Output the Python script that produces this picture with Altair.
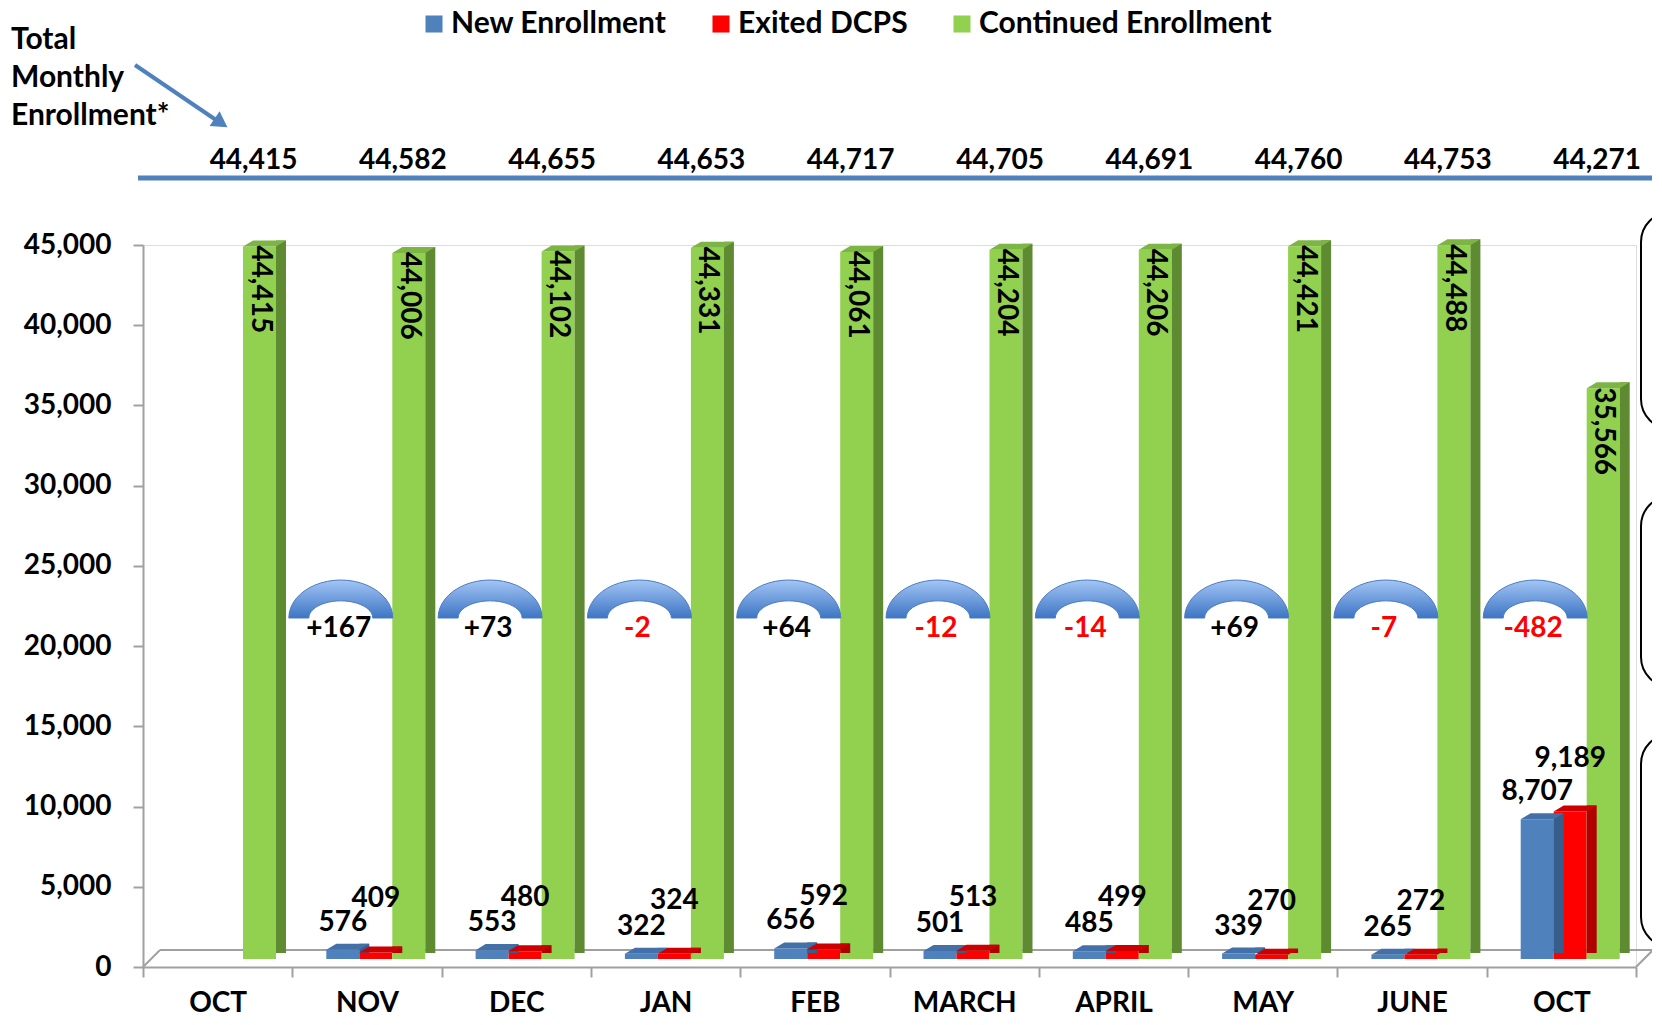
import altair as alt
import pandas as pd
import math

# ---------------- data ----------------
MONTHS = ["OCT", "NOV", "DEC", "JAN", "FEB", "MARCH", "APRIL", "MAY", "JUNE", "OCT"]
NEW = [None, 576, 553, 322, 656, 501, 485, 339, 265, 8707]
EXITED = [None, 409, 480, 324, 592, 513, 499, 270, 272, 9189]
CONTINUED = [44415, 44006, 44102, 44331, 44061, 44204, 44206, 44421, 44488, 35566]
TOTAL = [44415, 44582, 44655, 44653, 44717, 44705, 44691, 44760, 44753, 44271]
CHANGE = [None, 167, 73, -2, 64, -12, -14, 69, -7, -482]
SERIES = ["New Enrollment", "Exited DCPS", "Continued Enrollment"]
Y_TICKS = list(range(0, 45001, 5000))
SIDE_NOTE = "Total\nMonthly\nEnrollment*"

KEYS = [f"{i:02d}|{m}" for i, m in enumerate(MONTHS)]

rows = []
for k, n, e, c in zip(KEYS, NEW, EXITED, CONTINUED):
    for s, v in zip(SERIES, (n, e, c)):
        if v is not None:
            rows.append({"key": k, "series": s, "value": v})
bars = pd.DataFrame(rows)
totals = pd.DataFrame({"key": KEYS, "total": TOTAL, "series": SERIES[2]})
chg = pd.DataFrame([
    {"key": k, "change": c, "label": f"{c:+d}", "series": SERIES[0]}
    for k, c in zip(KEYS, CHANGE) if c is not None
])
one = pd.DataFrame({"a": [0]})

# ---------------- styles ----------------
FONT = "Lato"
FS = 28
FRONT = ["#4F81BD", "#FF0000", "#92D050"]
SIDE = ["#375D8C", "#B00000", "#5E8A32"]
TOP = ["#4470A8", "#CC0000", "#7DB545"]
BLUE = "#4F81BD"
GREY = "#A0A0A0"

W, H = 1493, 722
BASE = -8          # 3D floor lift (px)
SLOT0 = 34         # where the first bar starts inside a month band (px)
STEP = 33          # bar width (px)
DEPTH = 10         # 3D depth (px)


def xo(rng_shift):
    return alt.XOffset(
        "series:N",
        scale=alt.Scale(type="band", domain=SERIES,
                        range=[SLOT0 + rng_shift, SLOT0 + 3 * STEP + rng_shift],
                        paddingInner=0, paddingOuter=0),
    )


x_enc = alt.X(
    "key:N",
    scale=alt.Scale(domain=KEYS, paddingInner=0, paddingOuter=0),
    axis=alt.Axis(
        title=None, labelExpr="split(datum.label,'|')[1]", labelAngle=0,
        labelFont=FONT, labelFontSize=FS, labelFontWeight="bold", labelColor="black",
        tickBand="extent", tickSize=10, tickColor=GREY, tickWidth=2,
        domainColor=GREY, domainWidth=2, labelPadding=12,
    ),
)
y_enc = alt.Y(
    "value:Q",
    scale=alt.Scale(domain=[0, 45000], nice=False),
    axis=alt.Axis(
        title=None, values=Y_TICKS, format=",d", grid=False,
        labelFont=FONT, labelFontSize=FS, labelFontWeight="bold", labelColor="black",
        tickSize=10, tickColor=GREY, tickWidth=2, domainColor=GREY, domainWidth=2,
        labelPadding=22,
    ),
)

base = alt.Chart(bars)

front = base.mark_bar(yOffset=BASE, y2Offset=BASE).encode(
    x=x_enc, xOffset=xo(0), y=y_enc,
    color=alt.Color(
        "series:N", scale=alt.Scale(domain=SERIES, range=FRONT),
        legend=alt.Legend(
            orient="none", legendX=276, legendY=-236, direction="horizontal",
            title=None, symbolType="square", symbolSize=290, symbolStrokeWidth=0,
            labelFont=FONT, labelFontSize=30, labelFontWeight="bold", labelColor="black",
            labelLimit=600, columnPadding=39, labelOffset=2, padding=0,
        ),
    ),
)

side = base.mark_bar(width=DEPTH, yOffset=BASE - 6, y2Offset=BASE - 3).encode(
    x="key:N", xOffset=xo(STEP / 2 + DEPTH / 2), y="value:Q",
    fill=alt.Fill("series:N", scale=alt.Scale(domain=SERIES, range=SIDE), legend=None),
)

TOP_PATH = "M-1,0.14L0.535,0.14L1,-0.14L-0.535,-0.14Z"
top = base.mark_point(shape=TOP_PATH, filled=True, size=(STEP + DEPTH) ** 2, opacity=1, strokeWidth=0,
                      yOffset=BASE - 3).encode(
    x="key:N", xOffset=xo(DEPTH / 2), y="value:Q",
    fill=alt.Fill("series:N", scale=alt.Scale(domain=SERIES, range=TOP), legend=None),
)

green_lbl = base.transform_filter(alt.datum.series == SERIES[2]).mark_text(
    angle=90, align="left", baseline="middle", font=FONT, fontSize=FS, fontWeight="bold",
    color="black", yOffset=BASE, dx=-1,
).encode(x="key:N", xOffset=xo(0), y="value:Q", text=alt.Text("value:Q", format=","))

blue_lbl = base.transform_filter(alt.datum.series == SERIES[0]).mark_text(
    align="center", baseline="middle", font=FONT, fontSize=FS, fontWeight="bold",
    color="black", yOffset=BASE - 27,
).encode(x="key:N", xOffset=xo(0), y="value:Q", text=alt.Text("value:Q", format=","))

red_lbl = base.transform_filter(alt.datum.series == SERIES[1]).mark_text(
    align="center", baseline="middle", font=FONT, fontSize=FS, fontWeight="bold",
    color="black", yOffset=BASE - 53,
).encode(x="key:N", xOffset=xo(0), y="value:Q", text=alt.Text("value:Q", format=","))

# totals row above the plot
tot_text = alt.Chart(totals).mark_text(
    align="center", baseline="middle", font=FONT, fontSize=FS, fontWeight="bold", color="black",
).encode(x="key:N", xOffset=xo(-6), y=alt.value(-84), text=alt.Text("total:Q", format=","))

top_line = alt.Chart(one).mark_rule(color=BLUE, strokeWidth=5).encode(
    x=alt.value(-5), x2=alt.value(W + 40), y=alt.value(-67))

# arches between months (half elliptical rings)
pts_o = [(math.cos(math.pi * i / 24), -0.73 * math.sin(math.pi * i / 24)) for i in range(24, -1, -1)]
pts_i = [(0.615 * math.cos(math.pi * i / 24), -0.33 * math.sin(math.pi * i / 24)) for i in range(0, 25)]
ARCH_PATH = "M" + "L".join(f"{a:.3f},{b:.3f}" for a, b in pts_o + pts_i) + "Z"
arch_fill = alt.Gradient(
    gradient="linear", x1=0, y1=0, x2=0, y2=1,
    stops=[alt.GradientStop(color="#A3C6F5", offset=0), alt.GradientStop(color="#3D75C4", offset=1)],
)
arches = alt.Chart(chg).mark_point(
    shape=ARCH_PATH, filled=True, size=104 * 104, opacity=1, fill=arch_fill,
    stroke="#4A7CC0", strokeWidth=1,
).encode(x="key:N", xOffset=xo(-2), y=alt.value(373))

chg_text = alt.Chart(chg).mark_text(
    align="center", baseline="middle", font=FONT, fontSize=FS, fontWeight="bold",
).encode(
    x="key:N", xOffset=xo(-4), y=alt.value(384), text="label:N",
    color=alt.condition("datum.change < 0", alt.value("#FF0000"), alt.value("black")),
)

# side note with arrow
note = alt.Chart(one).mark_text(
    text=SIDE_NOTE, lineBreak="\n", lineHeight=38, align="left", baseline="top",
    font=FONT, fontSize=30, fontWeight="bold", color="black",
).encode(x=alt.value(-132), y=alt.value(-220))
arrow_line = alt.Chart(one).mark_rule(color=BLUE, strokeWidth=4).encode(
    x=alt.value(-8), y=alt.value(-180), x2=alt.value(76), y2=alt.value(-123))
arrow_head = alt.Chart(one).mark_point(shape="triangle-right", filled=True, size=320, angle=34,
                                       opacity=1, color=BLUE).encode(
    x=alt.value(78), y=alt.value(-122))

# 3D floor outline
floor_back = alt.Chart(one).mark_rule(color=GREY, strokeWidth=2).encode(
    x=alt.value(17), x2=alt.value(W + 17), y=alt.value(H - 17))
floor_left = alt.Chart(one).mark_rule(color=GREY, strokeWidth=2).encode(
    x=alt.value(0), y=alt.value(H), x2=alt.value(17), y2=alt.value(H - 17))
floor_right = alt.Chart(one).mark_rule(color=GREY, strokeWidth=2).encode(
    x=alt.value(W), y=alt.value(H), x2=alt.value(W + 17), y2=alt.value(H - 17))

# callout boxes at the right edge (cut off)
boxes = []
for y0, y1 in [(-33, 184), (251, 442), (489, 702)]:
    boxes.append(alt.Chart(one).mark_rect(
        fill="white", stroke="black", strokeWidth=2, cornerRadius=30,
    ).encode(x=alt.value(W + 5), x2=alt.value(W + 200), y=alt.value(y0), y2=alt.value(y1)))

chart = alt.layer(
    floor_back, floor_left, floor_right,
    front, side, top,
    green_lbl, blue_lbl, red_lbl,
    arches, chg_text,
    top_line, tot_text,
    note, arrow_line, arrow_head,
    *boxes,
).resolve_scale(fill="independent", xOffset="independent").properties(
    width=W, height=H,
    padding={"left": 135, "top": 237, "right": 16, "bottom": 50},
    autosize=alt.AutoSizeParams(type="none"),
).configure_view(stroke=None).configure(font=FONT)

chart.save("out.html", embed_options={"renderer": "svg", "actions": False})
